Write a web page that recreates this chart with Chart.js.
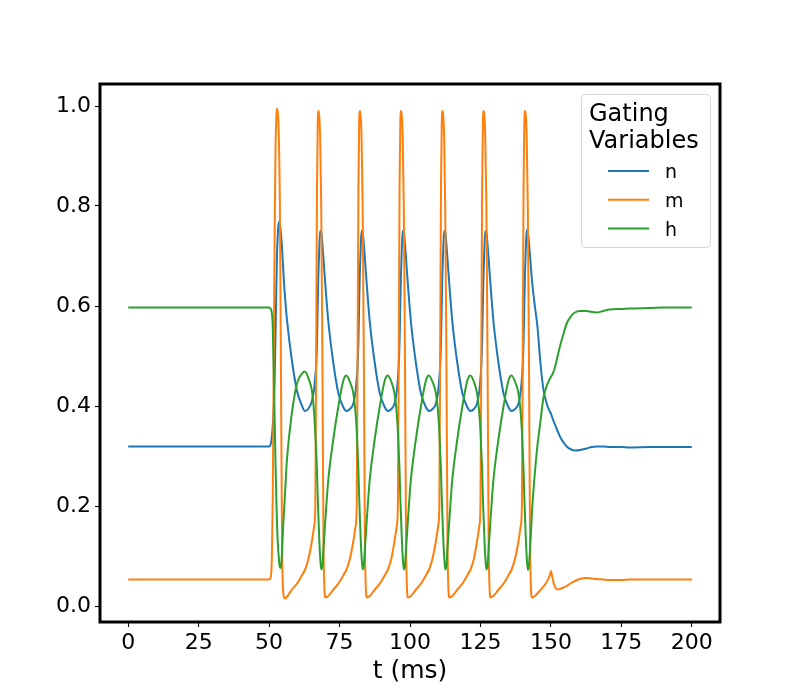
<!DOCTYPE html>
<html>
<head>
<meta charset="utf-8">
<script src="https://cdn.jsdelivr.net/npm/chart.js@4.4.0/dist/chart.umd.min.js"></script>
<style>html,body{margin:0;padding:0;background:#fff;}canvas{display:block;}</style>
</head>
<body>
<canvas id="c" width="800" height="700"></canvas>
<script>
const seriesLabels = ['n', 'm', 'h'];
const seriesColors = ['#1f77b4', '#ff7f0e', '#2ca02c'];
const legendTitle = ['Gating', 'Variables'];
const xTitle = 't (ms)';
const xTicks = [0, 25, 50, 75, 100, 125, 150, 175, 200];
const yTicks = [0.0, 0.2, 0.4, 0.6, 0.8, 1.0];

// time (ms)
const t = [0,
  50.0, 50.5, 51.0, 51.3, 51.7, 52.0, 52.3, 52.55, 52.8, 53.1, 53.4, 53.8, 54.2, 54.6, 54.9, 55.3, 55.7, 56.3, 58.0, 59.9, 61.7, 62.7, 64.0,
  65.2, 66.0, 66.4, 66.7, 67.0, 67.25, 67.5, 67.8, 68.1, 68.5, 68.9, 69.3, 69.6, 70.0, 71.0, 72.7, 74.6, 76.4, 77.4, 78.7,
  79.9, 80.7, 81.1, 81.4, 81.7, 81.95, 82.2, 82.5, 82.8, 83.2, 83.6, 84.0, 84.3, 84.7, 85.7, 87.4, 89.3, 91.1, 92.1, 93.4,
  94.5, 95.3, 95.7, 96.0, 96.3, 96.55, 96.8, 97.1, 97.4, 97.8, 98.2, 98.6, 98.9, 99.3, 100.3, 102.0, 103.9, 105.7, 106.7, 108.0,
  109.2, 110.0, 110.4, 110.7, 111.0, 111.25, 111.5, 111.8, 112.1, 112.5, 112.9, 113.3, 113.6, 114.0, 115.0, 116.7, 118.6, 120.4, 121.4, 122.7,
  123.8, 124.6, 125.0, 125.3, 125.6, 125.85, 126.1, 126.4, 126.7, 127.1, 127.5, 127.9, 128.2, 128.6, 129.6, 131.3, 133.2, 135.0, 136.0, 137.3,
  138.5, 139.3, 139.7, 140.0, 140.3, 140.55, 140.8, 141.1, 141.4, 141.8, 142.2, 142.6, 142.9, 143.3,
  144.3, 145.2, 146.3, 147.3, 148.5, 149.5, 150.0, 150.6, 151.3, 152.0, 152.6, 153.2, 154.5, 155.6, 157.2, 158.5, 160.3, 162.6, 164.5, 166.2, 168.5, 170.9, 175, 178, 185, 190, 200];

const n = [0.319,
  0.319, 0.322, 0.34, 0.36, 0.40, 0.46, 0.55, 0.63, 0.70, 0.745, 0.768, 0.765, 0.745, 0.715, 0.685, 0.645, 0.615, 0.575, 0.495, 0.43, 0.40, 0.39, 0.395,
  0.41, 0.435, 0.46, 0.48, 0.53, 0.60, 0.665, 0.715, 0.75, 0.748, 0.725, 0.695, 0.67, 0.64, 0.57, 0.49, 0.425, 0.397, 0.39, 0.394,
  0.405, 0.43, 0.455, 0.48, 0.53, 0.60, 0.665, 0.715, 0.75, 0.748, 0.725, 0.695, 0.67, 0.64, 0.57, 0.49, 0.425, 0.397, 0.39, 0.394,
  0.405, 0.43, 0.455, 0.48, 0.53, 0.60, 0.665, 0.715, 0.75, 0.748, 0.725, 0.695, 0.67, 0.64, 0.57, 0.49, 0.425, 0.397, 0.39, 0.394,
  0.405, 0.43, 0.455, 0.48, 0.53, 0.60, 0.665, 0.715, 0.75, 0.748, 0.725, 0.695, 0.67, 0.64, 0.57, 0.49, 0.425, 0.397, 0.39, 0.394,
  0.405, 0.43, 0.455, 0.48, 0.53, 0.60, 0.665, 0.715, 0.75, 0.748, 0.725, 0.695, 0.67, 0.64, 0.57, 0.49, 0.425, 0.397, 0.39, 0.394,
  0.405, 0.43, 0.455, 0.48, 0.53, 0.60, 0.665, 0.715, 0.752, 0.748, 0.727, 0.70, 0.678, 0.65,
  0.60, 0.56, 0.485, 0.435, 0.405, 0.39, 0.385, 0.375, 0.365, 0.355, 0.347, 0.339, 0.327, 0.319, 0.313, 0.311, 0.312, 0.315, 0.318, 0.319, 0.319, 0.318, 0.318, 0.317, 0.318, 0.318, 0.318];

const m = [0.053,
  0.053, 0.056, 0.10, 0.22, 0.52, 0.76, 0.92, 0.975, 0.995, 0.985, 0.95, 0.82, 0.48, 0.12, 0.04, 0.018, 0.015, 0.018, 0.032, 0.045, 0.062, 0.072, 0.095,
  0.13, 0.16, 0.20, 0.50, 0.84, 0.96, 0.99, 0.98, 0.94, 0.80, 0.51, 0.13, 0.04, 0.017, 0.02, 0.032, 0.045, 0.062, 0.072, 0.095,
  0.13, 0.16, 0.20, 0.50, 0.84, 0.96, 0.99, 0.98, 0.94, 0.80, 0.51, 0.13, 0.04, 0.017, 0.02, 0.032, 0.045, 0.062, 0.072, 0.095,
  0.13, 0.16, 0.20, 0.50, 0.84, 0.96, 0.99, 0.98, 0.94, 0.80, 0.51, 0.13, 0.04, 0.017, 0.02, 0.032, 0.045, 0.062, 0.072, 0.095,
  0.13, 0.16, 0.20, 0.50, 0.84, 0.96, 0.99, 0.98, 0.94, 0.80, 0.51, 0.13, 0.04, 0.017, 0.02, 0.032, 0.045, 0.062, 0.072, 0.095,
  0.13, 0.16, 0.20, 0.50, 0.84, 0.96, 0.99, 0.98, 0.94, 0.80, 0.51, 0.13, 0.04, 0.017, 0.02, 0.032, 0.045, 0.062, 0.072, 0.095,
  0.13, 0.16, 0.20, 0.50, 0.84, 0.96, 0.99, 0.98, 0.94, 0.80, 0.51, 0.13, 0.04, 0.017,
  0.02, 0.025, 0.032, 0.039, 0.048, 0.060, 0.070, 0.055, 0.040, 0.034, 0.033, 0.034, 0.037, 0.040, 0.046, 0.050, 0.054, 0.056, 0.055, 0.054, 0.053, 0.052, 0.052, 0.053, 0.053, 0.053, 0.053];

const h = [0.597,
  0.597, 0.595, 0.585, 0.56, 0.45, 0.366, 0.28, 0.22, 0.166, 0.125, 0.10, 0.078, 0.076, 0.11, 0.15, 0.19, 0.23, 0.29, 0.382, 0.445, 0.465, 0.469, 0.455,
  0.43, 0.385, 0.345, 0.31, 0.27, 0.22, 0.18, 0.135, 0.10, 0.073, 0.08, 0.115, 0.14, 0.175, 0.252, 0.33, 0.40, 0.452, 0.461, 0.448,
  0.425, 0.385, 0.35, 0.31, 0.27, 0.22, 0.18, 0.135, 0.10, 0.073, 0.08, 0.115, 0.14, 0.175, 0.252, 0.33, 0.40, 0.452, 0.461, 0.448,
  0.425, 0.385, 0.35, 0.31, 0.27, 0.22, 0.18, 0.135, 0.10, 0.073, 0.08, 0.115, 0.14, 0.175, 0.252, 0.33, 0.40, 0.452, 0.461, 0.448,
  0.425, 0.385, 0.35, 0.31, 0.27, 0.22, 0.18, 0.135, 0.10, 0.073, 0.08, 0.115, 0.14, 0.175, 0.252, 0.33, 0.40, 0.452, 0.461, 0.448,
  0.425, 0.385, 0.35, 0.31, 0.27, 0.22, 0.18, 0.135, 0.10, 0.073, 0.08, 0.115, 0.14, 0.175, 0.252, 0.33, 0.40, 0.452, 0.461, 0.448,
  0.425, 0.385, 0.35, 0.31, 0.27, 0.22, 0.18, 0.135, 0.10, 0.072, 0.08, 0.115, 0.145, 0.19,
  0.265, 0.32, 0.37, 0.415, 0.44, 0.453, 0.458, 0.464, 0.475, 0.49, 0.505, 0.519, 0.545, 0.565, 0.58, 0.587, 0.59, 0.59, 0.588, 0.587, 0.59, 0.593, 0.594, 0.595, 0.596, 0.597, 0.597];

const FONT = 'DejaVu Sans';
const seriesValues = [n, m, h];

const datasets = seriesValues.map((vals, i) => ({
  label: seriesLabels[i],
  data: t.map((x, k) => ({ x: x, y: vals[k] })),
  borderColor: seriesColors[i],
  backgroundColor: seriesColors[i],
  borderWidth: 2,
  pointRadius: 0,
  fill: false,
  cubicInterpolationMode: 'monotone',
  order: 3 - i
}));

const framePlugin = {
  id: 'frame',
  afterDatasetsDraw(chart) {
    const { ctx, chartArea: a } = chart;
    ctx.save();
    ctx.strokeStyle = '#000';
    ctx.lineWidth = 3;
    ctx.strokeRect(a.left, a.top, a.right - a.left, a.bottom - a.top);
    ctx.restore();
  }
};

const legendPlugin = {
  id: 'boxLegend',
  afterDraw(chart) {
    const ctx = chart.ctx;
    const x = 581, y = 94, w = 129, hgt = 153;
    ctx.save();
    ctx.beginPath();
    ctx.roundRect(x + 0.5, y + 0.5, w, hgt, 4);
    ctx.fillStyle = 'rgba(255,255,255,0.8)';
    ctx.fill();
    ctx.strokeStyle = '#d5d5d5';
    ctx.lineWidth = 1;
    ctx.stroke();
    ctx.fillStyle = '#000';
    ctx.textAlign = 'left';
    ctx.textBaseline = 'alphabetic';
    ctx.font = '24px "' + FONT + '"';
    ctx.fillText(legendTitle[0], 589, 121);
    ctx.fillText(legendTitle[1], 589, 147.5);
    ctx.font = '19px "' + FONT + '"';
    chart.data.datasets.forEach((ds, i) => {
      const ly = 171 + i * 28.8;
      ctx.beginPath();
      ctx.moveTo(608, ly);
      ctx.lineTo(649, ly);
      ctx.strokeStyle = ds.borderColor;
      ctx.lineWidth = 2;
      ctx.stroke();
      ctx.fillStyle = '#000';
      ctx.fillText(ds.label, 665, ly + 7);
    });
    ctx.restore();
  }
};

new Chart(document.getElementById('c'), {
  type: 'line',
  data: { datasets: datasets },
  plugins: [framePlugin, legendPlugin],
  options: {
    responsive: false,
    animation: false,
    devicePixelRatio: 1,
    layout: { padding: { left: 0, right: 80, top: 84, bottom: 0 } },
    plugins: { legend: { display: false }, tooltip: { enabled: false } },
    scales: {
      x: {
        type: 'linear',
        min: -10,
        max: 210,
        afterBuildTicks: (s) => { s.ticks = xTicks.map(v => ({ value: v })); },
        afterFit: (s) => { s.height = 78; },
        ticks: {
          font: { family: FONT, size: 22 },
          color: '#000',
          padding: 3,
          maxRotation: 0,
          autoSkip: false,
          callback: (v) => String(v)
        },
        grid: { display: true, drawOnChartArea: false, drawTicks: true, tickLength: 5, tickColor: '#000', tickWidth: 1.1 },
        border: { display: false },
        title: { display: true, text: xTitle, color: '#000', font: { family: FONT, size: 25 }, padding: { top: 0, bottom: 14 } }
      },
      y: {
        type: 'linear',
        min: -0.032,
        max: 1.044,
        afterBuildTicks: (s) => { s.ticks = yTicks.map(v => ({ value: v })); },
        afterFit: (s) => { s.width = 100; },
        ticks: {
          font: { family: FONT, size: 22 },
          color: '#000',
          padding: 4,
          autoSkip: false,
          callback: (v) => Number(v).toFixed(1)
        },
        grid: { display: true, drawOnChartArea: false, drawTicks: true, tickLength: 5, tickColor: '#000', tickWidth: 1.1 },
        border: { display: false }
      }
    }
  }
});
</script>
</body>
</html>
